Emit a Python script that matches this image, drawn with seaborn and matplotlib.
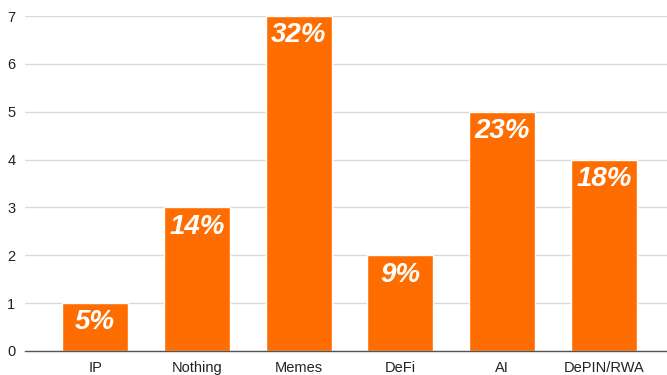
import matplotlib
matplotlib.use("Agg")
import matplotlib.pyplot as plt
import seaborn as sns
import pandas as pd

categories = ["IP", "Nothing", "Memes", "DeFi", "AI", "DePIN/RWA"]
values = [1, 3, 7, 2, 5, 4]
pct_labels = ["5%", "14%", "32%", "9%", "23%", "18%"]
y_ticks = [0, 1, 2, 3, 4, 5, 6, 7]

sns.set_theme(style="white")
plt.rcParams["font.family"] = ["Liberation Sans", "DejaVu Sans"]

df = pd.DataFrame({"category": categories, "value": values})

fig = plt.figure(figsize=(6.67, 3.75), dpi=100)
ax = fig.add_axes([25 / 667, 1 - 351 / 375, (667 - 25) / 667, (351 - 16) / 375])

sns.barplot(data=df, x="category", y="value", color="#FF6D01", saturation=1,
            width=0.65, ax=ax, zorder=3)

ax.set_xlim(-0.69, 5.62)
ax.set_ylim(0, 7)
ax.set_yticks(y_ticks)
ax.set_yticklabels([str(t) for t in y_ticks])
ax.yaxis.grid(True, color="#d9d9d9", linewidth=1, zorder=0)
ax.set_axisbelow(True)
for s in ["top", "right", "left"]:
    ax.spines[s].set_visible(False)
ax.spines["bottom"].set_color("#555555")
ax.spines["bottom"].set_linewidth(1)
ax.spines["bottom"].set_zorder(4)
ax.tick_params(axis="both", length=0, labelsize=10.5, colors="#222222")
ax.tick_params(axis="y", pad=7)
ax.tick_params(axis="x", pad=7)
ax.set_xlabel("")
ax.set_ylabel("")

for i, (v, lab) in enumerate(zip(values, pct_labels)):
    ax.annotate(lab, xy=(i, v), xytext=(0, -4.5), textcoords="offset points",
                ha="center", va="top", color="white", fontsize=20,
                fontweight="bold", fontstyle="italic", zorder=5)

fig.savefig("out.png", dpi=100)
